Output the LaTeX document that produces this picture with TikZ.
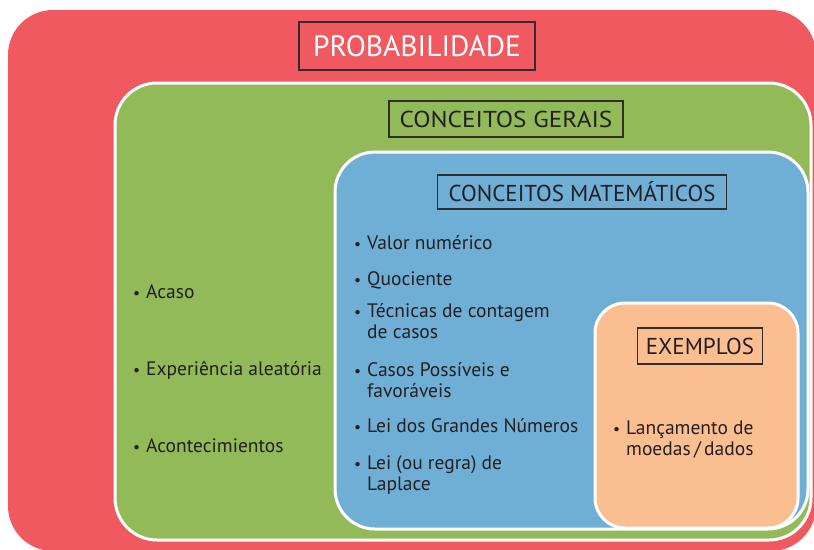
\documentclass[tikz,border=0pt]{standalone}
\usepackage{fontspec}
\setmainfont{PT Sans}
\newfontfamily\wideft[FakeStretch=1.1]{PT Sans}
\definecolor{cred}{RGB}{240,89,96}
\definecolor{cgreen}{RGB}{147,186,88}
\definecolor{cblue}{RGB}{111,175,214}
\definecolor{corange}{RGB}{250,190,145}
\definecolor{ctext}{RGB}{35,31,32}
\definecolor{cframe}{RGB}{50,45,45}
\newcommand{\itm}[1]{\makebox[13pt][l]{\scalebox{0.8}{\textbullet}}\begin{tabular}[t]{@{}l@{}}#1\end{tabular}}
\begin{document}
\begin{tikzpicture}[x=1pt,y=-1pt,
  region/.style={draw=white,line width=3pt},
  titlebox/.style={draw=cframe,line width=1.2pt,inner sep=0pt,text=ctext,
    font=\fontsize{23}{26}\selectfont},
  item/.style={anchor=base west,inner sep=0pt,text=ctext,
    font=\fontsize{19.5}{21}\selectfont}]
\useasboundingbox (0,0) rectangle (814,549);
% regions
\fill[cred,rounded corners=45pt] (8,10) rectangle (816,551);
\draw[region,fill=cgreen,rounded corners=42pt] (115,83) rectangle (811,540);
\draw[region,fill=cblue,rounded corners=40pt] (335,152) rectangle (808,529);
\draw[region,fill=corange,rounded corners=30pt] (595,303) rectangle (798,528);
% titles
\node[titlebox,minimum width=236pt,minimum height=48pt,text=white,
  font=\fontsize{29.5}{31}\selectfont] (tprob) at (417,46) {PROBABILIDADE};
\node[titlebox,minimum width=234pt,minimum height=36pt,
  font=\wideft\fontsize{23}{26}\selectfont] (tger) at (506,119) {CONCEITOS GERAIS};
\node[titlebox,minimum width=289pt,minimum height=34pt] (tmat) at (582,192) {CONCEITOS MATEMÁTICOS};
\node[titlebox,minimum width=125pt,minimum height=36pt] (tex) at (700,346) {EXEMPLOS};
% general concepts
\node[item] (g1) at (133,298) {\itm{Acaso}};
\node[item] (g2) at (133,375) {\itm{Experiência aleatória}};
\node[item] (g3) at (133,452) {\itm{Acontecimientos}};
% mathematical concepts
\node[item] (m1) at (354,249) {\itm{Valor numérico}};
\node[item] (m2) at (354,285) {\itm{Quociente}};
\node[item] (m3) at (354,317) {\itm{Técnicas de contagem\\de casos}};
\node[item] (m4) at (354,376) {\itm{Casos Possíveis e\\favoráveis}};
\node[item] (m5) at (354,432) {\itm{Lei dos Grandes Números}};
\node[item] (m6) at (354,469) {\itm{Lei (ou regra) de\\Laplace}};
% examples
\node[item] (e1) at (613,434) {\itm{Lançamento de\\moedas\,/\,dados}};
\end{tikzpicture}
\end{document}
